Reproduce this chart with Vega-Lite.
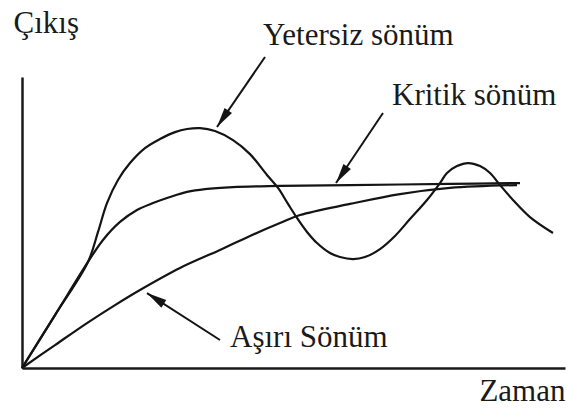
{
  "$schema": "https://vega.github.io/schema/vega-lite/v6.json",
  "width": 543,
  "height": 291,
  "autosize": {"type": "none"},
  "padding": {"left": 22, "top": 77, "right": 2, "bottom": 41},
  "background": "white",
  "config": {
    "view": {"stroke": null},
    "axis": {
      "domainColor": "#1a1a1a",
      "domainWidth": 2.5,
      "ticks": false,
      "labels": false,
      "grid": false,
      "titleFont": "Liberation Serif",
      "titleFontSize": 31,
      "titleFontWeight": "normal",
      "titleColor": "#1a1a1a"
    }
  },
  "datasets": {
    "curves": [
      {"series": "Yetersiz sönüm", "t": 0, "v": 0},
      {"series": "Yetersiz sönüm", "t": 0.608, "v": 0.291},
      {"series": "Yetersiz sönüm", "t": 1.215, "v": 0.583},
      {"series": "Yetersiz sönüm", "t": 1.4, "v": 0.748},
      {"series": "Yetersiz sönüm", "t": 1.565, "v": 0.907},
      {"series": "Yetersiz sönüm", "t": 1.768, "v": 1.034},
      {"series": "Yetersiz sönüm", "t": 1.989, "v": 1.127},
      {"series": "Yetersiz sönüm", "t": 2.265, "v": 1.209},
      {"series": "Yetersiz sönüm", "t": 2.541, "v": 1.259},
      {"series": "Yetersiz sönüm", "t": 2.818, "v": 1.297},
      {"series": "Yetersiz sönüm", "t": 3.039, "v": 1.314},
      {"series": "Yetersiz sönüm", "t": 3.278, "v": 1.319},
      {"series": "Yetersiz sönüm", "t": 3.554, "v": 1.303},
      {"series": "Yetersiz sönüm", "t": 3.886, "v": 1.253},
      {"series": "Yetersiz sönüm", "t": 4.199, "v": 1.176},
      {"series": "Yetersiz sönüm", "t": 4.512, "v": 1.061},
      {"series": "Yetersiz sönüm", "t": 4.715, "v": 0.99},
      {"series": "Yetersiz sönüm", "t": 4.899, "v": 0.902},
      {"series": "Yetersiz sönüm", "t": 5.064, "v": 0.825},
      {"series": "Yetersiz sönüm", "t": 5.249, "v": 0.748},
      {"series": "Yetersiz sönüm", "t": 5.433, "v": 0.687},
      {"series": "Yetersiz sönüm", "t": 5.672, "v": 0.632},
      {"series": "Yetersiz sönüm", "t": 5.856, "v": 0.61},
      {"series": "Yetersiz sönüm", "t": 6.096, "v": 0.599},
      {"series": "Yetersiz sönüm", "t": 6.317, "v": 0.61},
      {"series": "Yetersiz sönüm", "t": 6.593, "v": 0.654},
      {"series": "Yetersiz sönüm", "t": 6.869, "v": 0.726},
      {"series": "Yetersiz sönüm", "t": 7.145, "v": 0.819},
      {"series": "Yetersiz sönüm", "t": 7.459, "v": 0.924},
      {"series": "Yetersiz sönüm", "t": 7.698, "v": 1.017},
      {"series": "Yetersiz sönüm", "t": 7.827, "v": 1.072},
      {"series": "Yetersiz sönüm", "t": 8.011, "v": 1.11},
      {"series": "Yetersiz sönüm", "t": 8.214, "v": 1.127},
      {"series": "Yetersiz sönüm", "t": 8.435, "v": 1.11},
      {"series": "Yetersiz sönüm", "t": 8.619, "v": 1.072},
      {"series": "Yetersiz sönüm", "t": 8.803, "v": 1.006},
      {"series": "Yetersiz sönüm", "t": 9.042, "v": 0.924},
      {"series": "Yetersiz sönüm", "t": 9.355, "v": 0.83},
      {"series": "Yetersiz sönüm", "t": 9.779, "v": 0.742},

      {"series": "Kritik sönüm", "t": 0, "v": 0},
      {"series": "Kritik sönüm", "t": 0.608, "v": 0.291},
      {"series": "Kritik sönüm", "t": 1.215, "v": 0.583},
      {"series": "Kritik sönüm", "t": 1.492, "v": 0.704},
      {"series": "Kritik sönüm", "t": 1.805, "v": 0.803},
      {"series": "Kritik sönüm", "t": 2.118, "v": 0.869},
      {"series": "Kritik sönüm", "t": 2.413, "v": 0.907},
      {"series": "Kritik sönüm", "t": 2.726, "v": 0.94},
      {"series": "Kritik sönüm", "t": 3.039, "v": 0.968},
      {"series": "Kritik sönüm", "t": 3.37, "v": 0.984},
      {"series": "Kritik sönüm", "t": 3.886, "v": 0.995},
      {"series": "Kritik sönüm", "t": 4.751, "v": 1.001},
      {"series": "Kritik sönüm", "t": 6.041, "v": 1.006},
      {"series": "Kritik sönüm", "t": 7.882, "v": 1.012},
      {"series": "Kritik sönüm", "t": 9.171, "v": 1.017},

      {"series": "Aşırı Sönüm", "t": 0, "v": 0},
      {"series": "Aşırı Sönüm", "t": 0.608, "v": 0.126},
      {"series": "Aşırı Sönüm", "t": 1.197, "v": 0.247},
      {"series": "Aşırı Sönüm", "t": 1.713, "v": 0.346},
      {"series": "Aşırı Sönüm", "t": 2.173, "v": 0.429},
      {"series": "Aşırı Sönüm", "t": 2.91, "v": 0.55},
      {"series": "Aşırı Sönüm", "t": 3.646, "v": 0.649},
      {"series": "Aşırı Sönüm", "t": 4.199, "v": 0.726},
      {"series": "Aşırı Sönüm", "t": 4.751, "v": 0.797},
      {"series": "Aşırı Sönüm", "t": 5.12, "v": 0.841},
      {"series": "Aşırı Sönüm", "t": 6.041, "v": 0.902},
      {"series": "Aşırı Sönüm", "t": 6.961, "v": 0.956},
      {"series": "Aşırı Sönüm", "t": 7.882, "v": 0.99},
      {"series": "Aşırı Sönüm", "t": 9.116, "v": 1.006}
    ],
    "arrows": [
      {"arrow": "Yetersiz sönüm", "t0": 4.475, "v0": 1.71, "t1": 3.591, "v1": 1.325},
      {"arrow": "Kritik sönüm", "t0": 6.648, "v0": 1.402, "t1": 5.783, "v1": 1.017},
      {"arrow": "Aşırı Sönüm", "t0": 3.646, "v0": 0.154, "t1": 2.302, "v1": 0.412}
    ],
    "labels": [
      {"label": "Yetersiz sönüm", "t": 4.438, "v": 1.776},
      {"label": "Kritik sönüm", "t": 6.814, "v": 1.446},
      {"label": "Aşırı Sönüm", "t": 3.831, "v": 0.115}
    ]
  },
  "layer": [
    {
      "data": {"name": "curves"},
      "mark": {"type": "line", "interpolate": "catmull-rom", "color": "#141414", "strokeWidth": 2.2},
      "encoding": {
        "x": {
          "field": "t", "type": "quantitative",
          "scale": {"domain": [0, 10], "nice": false, "zero": false},
          "axis": {"title": "Zaman", "titleAnchor": "end", "titleAlign": "right", "titleBaseline": "alphabetic", "titleX": 543, "titleY": 32}
        },
        "y": {
          "field": "v", "type": "quantitative",
          "scale": {"domain": [0, 1.6], "nice": false, "zero": false},
          "axis": {"title": "Çıkış", "titleAngle": 0, "titleAlign": "left", "titleBaseline": "alphabetic", "titleX": -9, "titleY": -45}
        },
        "detail": {"field": "series"},
        "order": {"field": "t", "type": "quantitative"}
      }
    },
    {
      "data": {"name": "arrows"},
      "mark": {"type": "rule", "color": "#141414", "strokeWidth": 2},
      "encoding": {
        "x": {"field": "t0", "type": "quantitative"},
        "y": {"field": "v0", "type": "quantitative"},
        "x2": {"field": "t1"},
        "y2": {"field": "v1"}
      }
    },
    {
      "data": {"name": "arrows"},
      "transform": [{"filter": "datum.arrow === 'Yetersiz sönüm'"}],
      "mark": {"type": "point", "shape": "M0,0L0.9,4L-0.9,4Z", "size": 100, "filled": true, "opacity": 1, "color": "#141414", "angle": 214.4},
      "encoding": {
        "x": {"field": "t1", "type": "quantitative"},
        "y": {"field": "v1", "type": "quantitative"}
      }
    },
    {
      "data": {"name": "arrows"},
      "transform": [{"filter": "datum.arrow === 'Kritik sönüm'"}],
      "mark": {"type": "point", "shape": "M0,0L0.9,4L-0.9,4Z", "size": 100, "filled": true, "opacity": 1, "color": "#141414", "angle": 213.9},
      "encoding": {
        "x": {"field": "t1", "type": "quantitative"},
        "y": {"field": "v1", "type": "quantitative"}
      }
    },
    {
      "data": {"name": "arrows"},
      "transform": [{"filter": "datum.arrow === 'Aşırı Sönüm'"}],
      "mark": {"type": "point", "shape": "M0,0L0.9,4L-0.9,4Z", "size": 100, "filled": true, "opacity": 1, "color": "#141414", "angle": 302.8},
      "encoding": {
        "x": {"field": "t1", "type": "quantitative"},
        "y": {"field": "v1", "type": "quantitative"}
      }
    },
    {
      "data": {"name": "labels"},
      "mark": {"type": "text", "align": "left", "baseline": "alphabetic", "font": "Liberation Serif", "fontSize": 31, "color": "#1a1a1a"},
      "encoding": {
        "x": {"field": "t", "type": "quantitative"},
        "y": {"field": "v", "type": "quantitative"},
        "text": {"field": "label"}
      }
    }
  ]
}
